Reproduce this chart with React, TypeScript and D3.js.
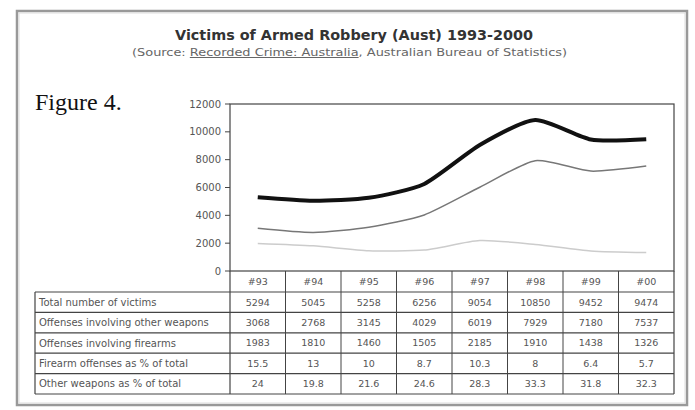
import React from "react";
import * as d3 from "d3";

const years = ["#93", "#94", "#95", "#96", "#97", "#98", "#99", "#00"];
const totalVictims = [5294, 5045, 5258, 6256, 9054, 10850, 9452, 9474];
const otherWeapons = [3068, 2768, 3145, 4029, 6019, 7929, 7180, 7537];
const firearms = [1983, 1810, 1460, 1505, 2185, 1910, 1438, 1326];
const firearmPct = ["15.5", "13", "10", "8.7", "10.3", "8", "6.4", "5.7"];
const otherPct = ["24", "19.8", "21.6", "24.6", "28.3", "33.3", "31.8", "32.3"];
const yTicks = [0, 2000, 4000, 6000, 8000, 10000, 12000];
const rowLabels = [
  "Total number of victims",
  "Offenses involving other weapons",
  "Offenses involving firearms",
  "Firearm offenses as % of total",
  "Other weapons as % of total",
];

export default function App() {
  const W = 695, H = 410;
  const plotL = 230, plotR = 674, plotT = 104, plotB = 271;
  const tableL = 35;
  const headerB = 292;
  const rowH = 20.4;

  const x = d3.scaleBand<string>().domain(years).range([plotL, plotR]);
  const y = d3.scaleLinear().domain([0, 12000]).range([plotB, plotT]);
  const cx = (i: number) => (x(years[i]) as number) + x.bandwidth() / 2;
  const line = d3
    .line<number>()
    .x((_, i) => cx(i))
    .y((d) => y(d))
    .curve(d3.curveCardinal.tension(0.35));

  const rows: (string | number)[][] = [totalVictims, otherWeapons, firearms, firearmPct, otherPct];
  const tableBottom = headerB + rowH * rows.length;
  const gray = "#555";
  const lineCol = "#444";
  const font = "DejaVu Sans, Verdana, sans-serif";

  return (
    <svg
      width={W}
      height={H}
      style={{ position: "absolute", left: 0, top: 0, background: "#fff" }}
      fontFamily={font}
    >
      {/* outer frame */}
      <rect x={17} y={11} width={670} height={394} fill="none" stroke="#999" strokeWidth={2.5} />
      <rect x={19} y={13} width={666} height={390} fill="none" stroke="#ddd" strokeWidth={1} />

      {/* titles */}
      <text x={175} y={40} fontSize={14} fontWeight="bold" fill="#333" textLength={358} lengthAdjust="spacingAndGlyphs">
        Victims of Armed Robbery (Aust) 1993-2000
      </text>
      <text x={132} y={56} fontSize={10} fill="#666" textLength={435} lengthAdjust="spacingAndGlyphs">
        (Source: <tspan textDecoration="underline">Recorded Crime: Australia</tspan>,  Australian Bureau of Statistics)
      </text>

      <text x={35} y={110} fontFamily="Liberation Serif, Times New Roman, serif" fontSize={24} fill="#111">
        Figure 4.
      </text>

      {/* plot area */}
      <rect x={plotL} y={plotT} width={plotR - plotL} height={plotB - plotT} fill="none" stroke={lineCol} strokeWidth={1.2} />
      {yTicks.map((t) => (
        <g key={t}>
          <line x1={plotL - 5} x2={plotL} y1={y(t)} y2={y(t)} stroke={lineCol} strokeWidth={1} />
          <text x={plotL - 9} y={y(t)} dy="0.35em" textAnchor="end" fontSize={10} fill={gray}>
            {t}
          </text>
        </g>
      ))}

      {/* lines */}
      <path d={line(firearms) || ""} fill="none" stroke="#ccc" strokeWidth={1.5} />
      <path d={line(otherWeapons) || ""} fill="none" stroke="#777" strokeWidth={1.5} />
      <path d={line(totalVictims) || ""} fill="none" stroke="#111" strokeWidth={4} />

      {/* table header */}
      <line x1={plotL} x2={plotR} y1={headerB} y2={headerB} stroke={lineCol} strokeWidth={1.2} />
      <line x1={plotR} x2={plotR} y1={plotB} y2={tableBottom} stroke={lineCol} strokeWidth={1.2} />
      <line x1={plotL} x2={plotL} y1={plotB} y2={tableBottom} stroke={lineCol} strokeWidth={1.2} />
      {years.map((yr, i) => (
        <g key={yr}>
          {i > 0 && (
            <line
              x1={x(yr) as number}
              x2={x(yr) as number}
              y1={plotB}
              y2={tableBottom}
              stroke={lineCol}
              strokeWidth={1}
            />
          )}
          <text x={cx(i)} y={(plotB + headerB) / 2} dy="0.35em" textAnchor="middle" fontSize={9.5} fill={gray}>
            {yr}
          </text>
        </g>
      ))}

      {/* table rows */}
      <line x1={tableL} x2={tableL} y1={headerB} y2={tableBottom} stroke={lineCol} strokeWidth={1.2} />
      {rows.map((r, ri) => {
        const top = headerB + rowH * ri;
        return (
          <g key={ri}>
            <line x1={tableL} x2={plotR} y1={top + rowH} y2={top + rowH} stroke={lineCol} strokeWidth={1.2} />
            {ri === 0 && <line x1={tableL} x2={plotL} y1={top} y2={top} stroke={lineCol} strokeWidth={1.2} />}
            <text x={tableL + 4} y={top + rowH / 2} dy="0.35em" fontSize={10} fill={gray}>
              {rowLabels[ri]}
            </text>
            {r.map((v, i) => (
              <text key={i} x={cx(i)} y={top + rowH / 2} dy="0.35em" textAnchor="middle" fontSize={9.5} fill={gray}>
                {v}
              </text>
            ))}
          </g>
        );
      })}
    </svg>
  );
}
